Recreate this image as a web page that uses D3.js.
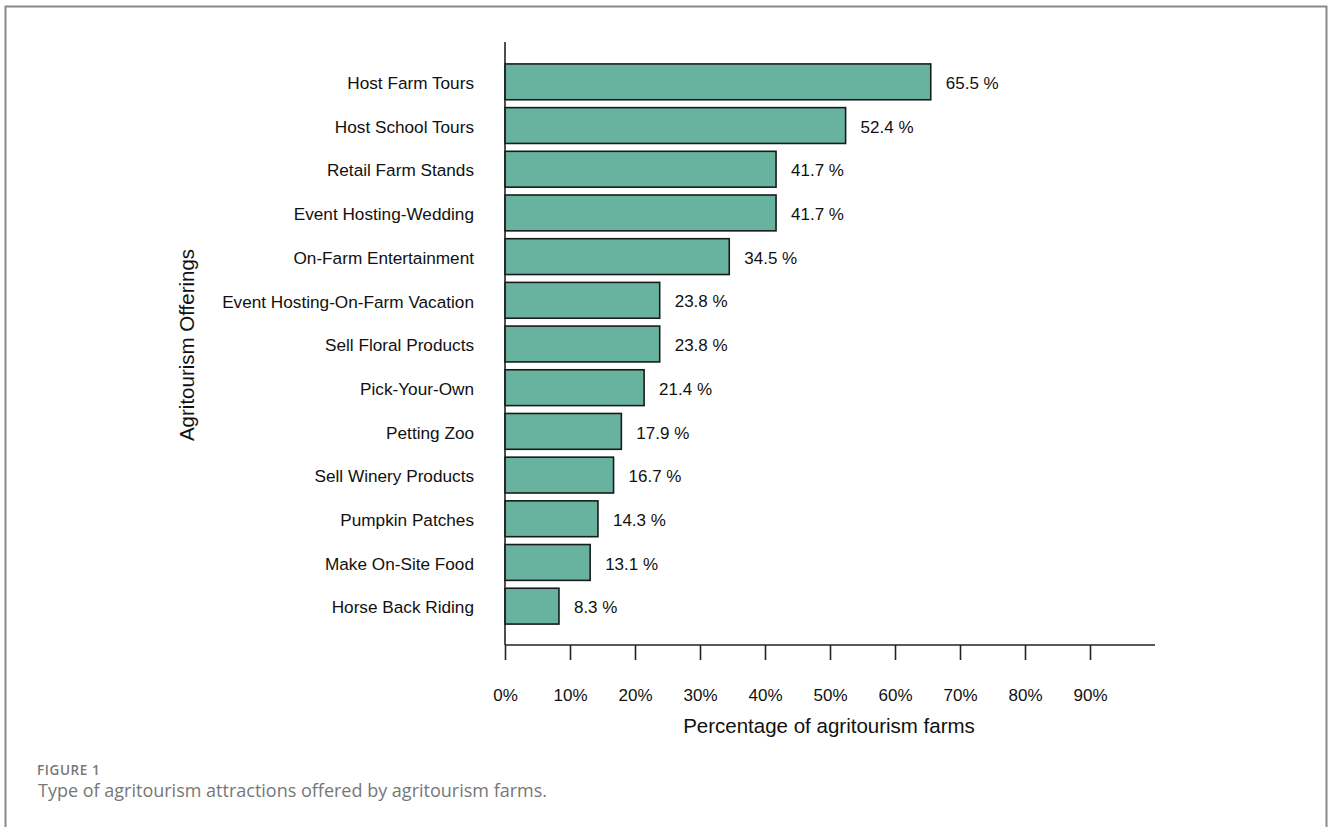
<!DOCTYPE html>
<html>
<head>
<meta charset="utf-8">
<script src="https://cdn.jsdelivr.net/npm/d3@7"></script>
<style>
  body { margin: 0; background: #fff; }
  svg { display: block; }
</style>
</head>
<body>
<svg id="chart" width="1328" height="827"></svg>
<script>
// dados
const offerings = [
  "Host Farm Tours", "Host School Tours", "Retail Farm Stands", "Event Hosting-Wedding",
  "On-Farm Entertainment", "Event Hosting-On-Farm Vacation", "Sell Floral Products",
  "Pick-Your-Own", "Petting Zoo", "Sell Winery Products", "Pumpkin Patches",
  "Make On-Site Food", "Horse Back Riding"
];
const percents = [65.5, 52.4, 41.7, 41.7, 34.5, 23.8, 23.8, 21.4, 17.9, 16.7, 14.3, 13.1, 8.3];
const tickValues = [0, 10, 20, 30, 40, 50, 60, 70, 80, 90];

const svg = d3.select("#chart");
const font = "Liberation Sans, Arial, sans-serif";

// moldura
svg.append("path")
  .attr("d", "M5.5,840 V6.5 H1326.5 V840")
  .attr("fill", "none")
  .attr("stroke", "#8a8a8a")
  .attr("stroke-width", 2);

const plotLeft = 505, plotRight = 1155, plotTop = 42, plotBottom = 645;

const x = d3.scaleLinear().domain([0, 100]).range([plotLeft, plotRight]);
const y = d3.scaleBand().domain(offerings).range([60, 628]).paddingInner(0.18).paddingOuter(0.09);

const data = offerings.map((name, i) => ({ name, value: percents[i] }));

svg.selectAll("rect.bar")
  .data(data)
  .enter()
  .append("rect")
  .attr("class", "bar")
  .attr("x", x(0))
  .attr("y", d => y(d.name))
  .attr("width", d => x(d.value) - x(0))
  .attr("height", y.bandwidth())
  .attr("fill", "#67b3a0")
  .attr("stroke", "#1a1a1a")
  .attr("stroke-width", 1.6);

svg.selectAll("text.value")
  .data(data)
  .enter()
  .append("text")
  .attr("x", d => x(d.value) + 15)
  .attr("y", d => y(d.name) + y.bandwidth() / 2)
  .attr("dy", "0.42em")
  .attr("font-family", font)
  .attr("font-size", "17px")
  .attr("fill", "#111")
  .text(d => d.value.toFixed(1) + " %");

svg.selectAll("text.cat")
  .data(offerings)
  .enter()
  .append("text")
  .attr("x", 474)
  .attr("y", d => y(d) + y.bandwidth() / 2)
  .attr("dy", "0.42em")
  .attr("text-anchor", "end")
  .attr("font-family", font)
  .attr("font-size", "17.2px")
  .attr("fill", "#111")
  .text(d => d);

// eixo y (linha apenas)
svg.append("line")
  .attr("x1", plotLeft).attr("x2", plotLeft)
  .attr("y1", plotTop).attr("y2", plotBottom)
  .attr("stroke", "#222").attr("stroke-width", 1.6);

// eixo x
const xAxis = svg.append("g")
  .attr("transform", `translate(0,${plotBottom})`)
  .call(d3.axisBottom(x).tickValues(tickValues).tickSize(15).tickPadding(0).tickFormat(d => d + "%"));
xAxis.select(".domain").attr("stroke", "#222").attr("stroke-width", 1.6)
  .attr("d", `M${plotLeft},0H${plotRight}`);
xAxis.selectAll(".tick line").attr("stroke", "#222").attr("stroke-width", 1.6);
xAxis.selectAll(".tick text")
  .attr("y", 50)
  .attr("dy", "0.38em")
  .attr("font-family", font)
  .attr("font-size", "17px")
  .attr("fill", "#111");

svg.append("text")
  .attr("x", 829)
  .attr("y", 733)
  .attr("text-anchor", "middle")
  .attr("font-family", font)
  .attr("font-size", "20.5px")
  .attr("fill", "#111")
  .text("Percentage of agritourism farms");

svg.append("text")
  .attr("transform", "translate(194,345) rotate(-90)")
  .attr("text-anchor", "middle")
  .attr("font-family", font)
  .attr("font-size", "20.5px")
  .attr("fill", "#111")
  .text("Agritourism Offerings");

// legenda da figura
svg.append("text")
  .attr("x", 37)
  .attr("y", 775)
  .attr("font-family", "Open Sans, sans-serif")
  .attr("font-size", "13.5px")
  .attr("font-weight", 600)
  .attr("letter-spacing", "0.6px")
  .attr("fill", "#777")
  .text("FIGURE 1");

svg.append("text")
  .attr("x", 38)
  .attr("y", 797)
  .attr("font-family", "Open Sans, sans-serif")
  .attr("font-size", "18px")
  .attr("fill", "#777")
  .text("Type of agritourism attractions offered by agritourism farms.");
</script>
</body>
</html>
